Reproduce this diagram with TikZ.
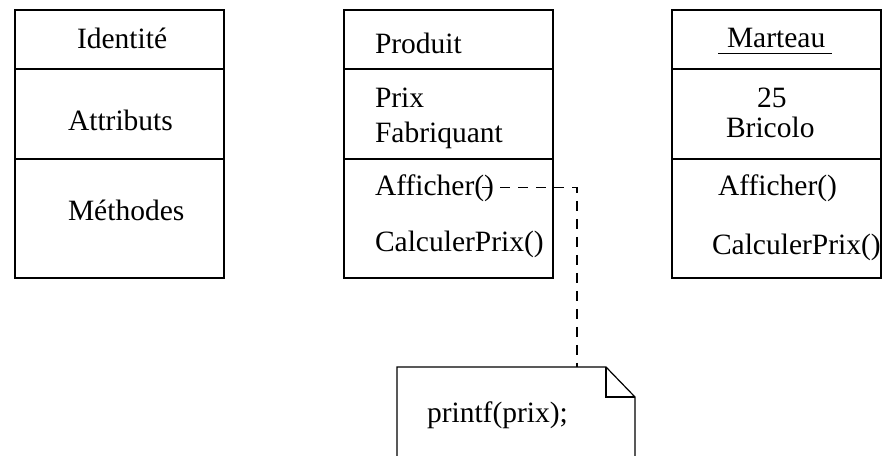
\documentclass[tikz,border=0pt]{standalone}
\usepackage{fontspec}
\setmainfont{Liberation Serif}
\usetikzlibrary{positioning}

\begin{document}
\begin{tikzpicture}[
   x = 1pt, y = -1pt,
   every node/.style = {inner sep=0pt, outer sep=0pt},
   part/.style = {draw, line width=1.2pt, minimum width=209pt},
   head/.style = {part, minimum height=59pt},
   attr/.style = {part, minimum height=90pt},
   meth/.style = {part, minimum height=119pt},
   txt/.style = {anchor=base west, font=\fontsize{29.5}{34}\selectfont},
   link/.style = {line width=1.2pt, dash pattern=on 10pt off 8pt}]
   \useasboundingbox (0,0) rectangle (882,455);

   \node[head, anchor=north west] (ident) at (15,10) {};
   \node[attr, below=0pt of ident] (identattr) {};
   \node[meth, below=0pt of identattr] (identmeth) {};
   \node[txt] (identname) at (77,48) {Identité};
   \node[txt] (identattrs) at (68,130) {Attributs};
   \node[txt] (identmeths) at (68,220) {Méthodes};

   \node[head, anchor=north west] (prod) at (344,10) {};
   \node[attr, below=0pt of prod] (prodattr) {};
   \node[meth, below=0pt of prodattr] (prodmeth) {};
   \node[txt] (prodname) at (375,53) {Produit};
   \node[txt] (pprix) at (375,107) {Prix};
   \node[txt] (pfab) at (375,142) {Fabriquant};
   \node[txt] (paff) at (375,195) {Afficher()};
   \node[txt] (pcalc) at (375,251) {CalculerPrix()};

   \node[head, anchor=north west] (mart) at (672,10) {};
   \node[attr, below=0pt of mart] (martattr) {};
   \node[meth, below=0pt of martattr] (martmeth) {};
   \node[txt] (martname) at (727,47) {Marteau};
   \node[txt] (mprix) at (757,107) {25};
   \node[txt] (mfab) at (726,137) {Bricolo};
   \node[txt] (maff) at (718,195) {Afficher()};
   \node[txt] (mcalc) at (712,254) {CalculerPrix()};
   \draw[line width=1.2pt] ([shift={(-9,6)}]martname.south west) -- ([shift={(7,6)}]martname.south east);

   \node[anchor=north west, minimum width=238pt, minimum height=110pt] (note) at (397,367) {};
   \draw[line width=1.2pt] (note.south west) -- (note.north west) -- ([shift={(-29,0)}]note.north east)
      -- ([shift={(0,30)}]note.north east) -- (note.south east);
   \draw[line width=1.2pt] ([shift={(-29,0)}]note.north east) |- ([shift={(0,30)}]note.north east);
   \node[txt] (code) at (427,422) {printf(prix);};

   \draw[link] ([xshift=-12pt]paff.east) -| ([xshift=180pt]note.north west);
\end{tikzpicture}
\end{document}
